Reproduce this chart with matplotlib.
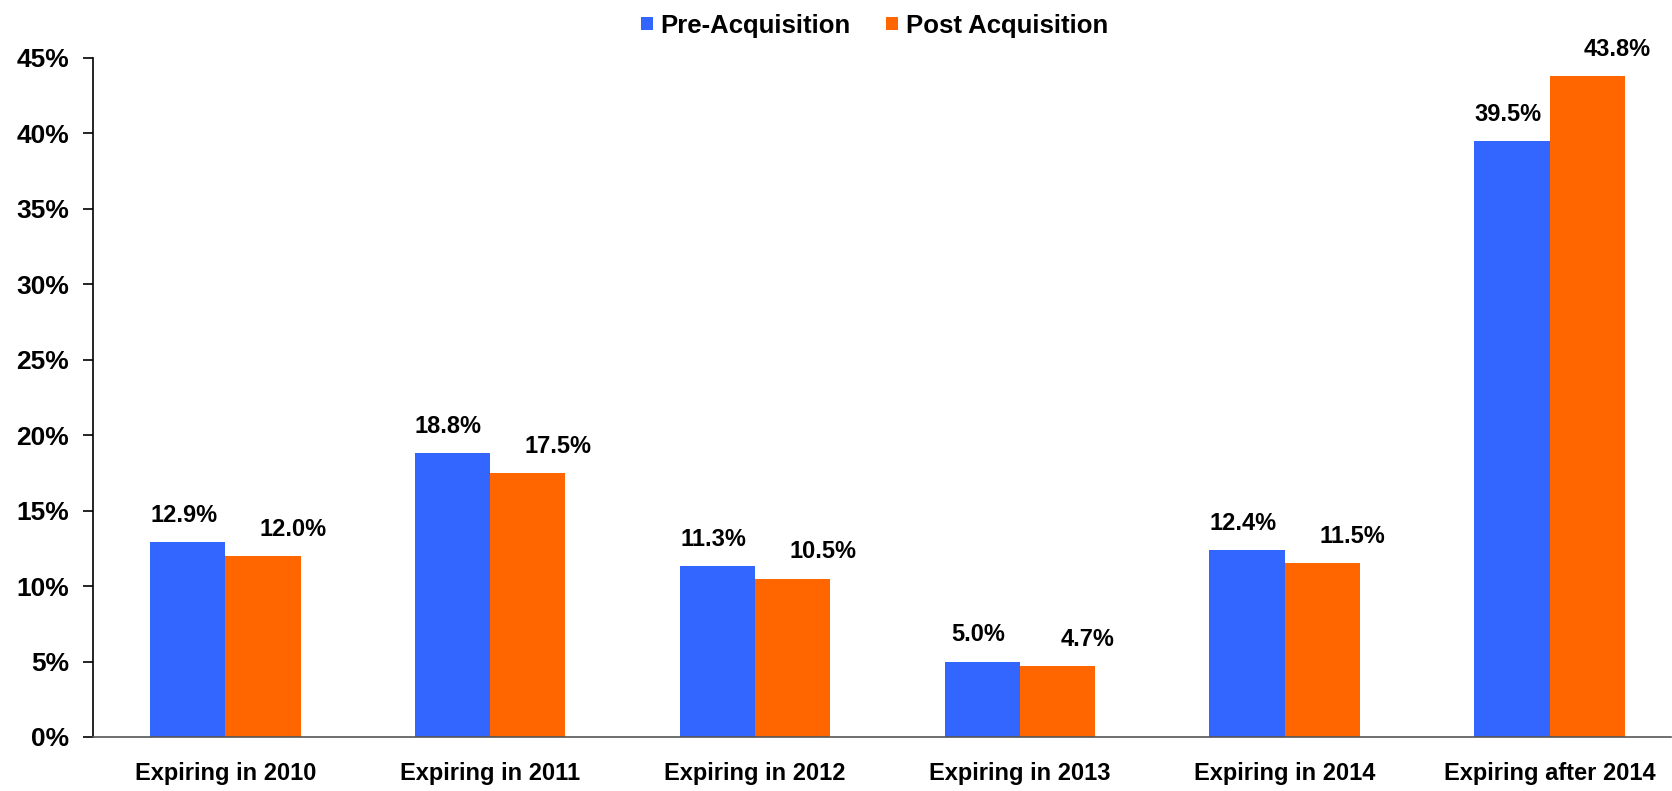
import matplotlib
matplotlib.use("Agg")
import matplotlib.pyplot as plt
import numpy as np

categories = ["Expiring in 2010", "Expiring in 2011", "Expiring in 2012",
              "Expiring in 2013", "Expiring in 2014", "Expiring after 2014"]
pre_acq = [12.9, 18.8, 11.3, 5.0, 12.4, 39.5]
post_acq = [12.0, 17.5, 10.5, 4.7, 11.5, 43.8]
series_names = ["Pre-Acquisition", "Post Acquisition"]
yticks = [0, 5, 10, 15, 20, 25, 30, 35, 40, 45]

blue = "#3366FF"
orange = "#FF6600"
plt.rcParams["font.family"] = ["Liberation Sans", "DejaVu Sans"]

fig = plt.figure(figsize=(16.72, 7.91), dpi=100)
ax = fig.add_axes([0.0556, 0.0683, 0.944, 0.8584])

x = np.arange(len(categories))
w = 0.284
ax.bar(x - w / 2, pre_acq, w, color=blue, label=series_names[0])
ax.bar(x + w / 2, post_acq, w, color=orange, label=series_names[1])

for xi, v in zip(x - w / 2, pre_acq):
    ax.annotate(f"{v:.1f}%", (xi, v), xytext=(-3, 11), textcoords="offset points",
                ha="center", va="bottom", fontsize=17, fontweight="bold")
for xi, v in zip(x + w / 2, post_acq):
    ax.annotate(f"{v:.1f}%", (xi, v), xytext=(22, 11), textcoords="offset points",
                ha="center", va="bottom", fontsize=17, fontweight="bold")

ax.set_xlim(-0.5, 5.46)
ax.set_ylim(0, 45)
ax.set_yticks(yticks)
ax.set_yticklabels([f"{t}%" for t in yticks], fontsize=19, fontweight="bold")
ax.set_xticks(x)
ax.set_xticklabels(categories, fontsize=17, fontweight="bold")
ax.tick_params(axis="x", length=0, pad=18)
ax.tick_params(axis="y", length=7, width=1.2, pad=10)

for s in ["top", "right"]:
    ax.spines[s].set_visible(False)
ax.spines["left"].set_linewidth(1.2)
ax.spines["bottom"].set_linewidth(1.2)
ax.spines["bottom"].set_color("#555555")

fig.legend(loc="upper center", bbox_to_anchor=(0.523, 1.012), ncol=2, frameon=False,
           prop={"weight": "bold", "size": 18.5},
           handlelength=0.45, handleheight=0.45, handletextpad=0.3, columnspacing=1.4)

fig.savefig("out.png", dpi=100)
